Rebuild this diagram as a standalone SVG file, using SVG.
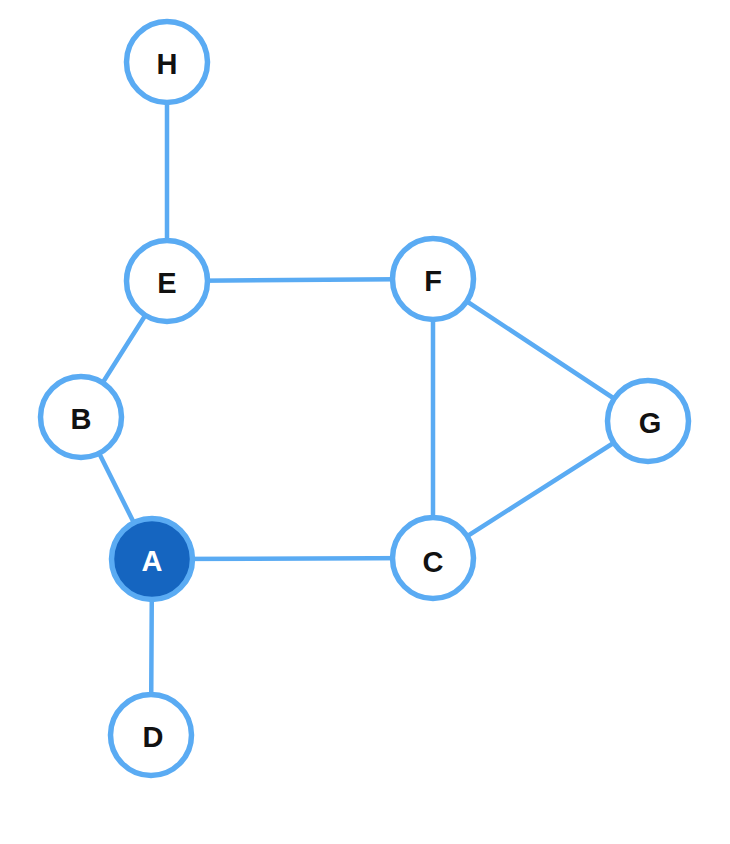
<svg xmlns="http://www.w3.org/2000/svg" width="730" height="844" viewBox="0 0 730 844">
<style>
.edge{stroke:#5aabf3;stroke-width:4.5;stroke-linecap:round;fill:none}
.node circle{fill:#ffffff;stroke:#5aabf3;stroke-width:5.5}
.node text{font-family:"Liberation Sans",sans-serif;font-weight:bold;font-size:29px;fill:#111111;text-anchor:middle;dominant-baseline:central}
#A circle{fill:#1565c0}
#A text{fill:#ffffff}
</style>
<rect width="730" height="844" fill="#ffffff"/>
<g id="edges">
<line class="edge" x1="167" y1="62" x2="167" y2="281"/>
<line class="edge" x1="167" y1="281" x2="433" y2="279"/>
<line class="edge" x1="167" y1="281" x2="81" y2="417"/>
<line class="edge" x1="81" y1="417" x2="152" y2="559"/>
<line class="edge" x1="152" y1="559" x2="433" y2="558"/>
<line class="edge" x1="152" y1="559" x2="151" y2="735"/>
<line class="edge" x1="433" y1="279" x2="433" y2="558"/>
<line class="edge" x1="433" y1="279" x2="648" y2="421"/>
<line class="edge" x1="648" y1="421" x2="433" y2="558"/>
</g>
<g id="H" class="node"><circle cx="167" cy="62" r="40.5"/><text x="167" y="64">H</text></g>
<g id="E" class="node"><circle cx="167" cy="281" r="40.5"/><text x="167" y="283">E</text></g>
<g id="F" class="node"><circle cx="433" cy="279" r="40.5"/><text x="433" y="281">F</text></g>
<g id="B" class="node"><circle cx="81" cy="417" r="40.5"/><text x="81" y="419">B</text></g>
<g id="G" class="node"><circle cx="648" cy="421" r="40.5"/><text x="650" y="423">G</text></g>
<g id="A" class="node"><circle cx="152" cy="559" r="40.5"/><text x="152" y="561">A</text></g>
<g id="C" class="node"><circle cx="433" cy="558" r="40.5"/><text x="433" y="562">C</text></g>
<g id="D" class="node"><circle cx="151" cy="735" r="40.5"/><text x="153" y="737">D</text></g>
</svg>
